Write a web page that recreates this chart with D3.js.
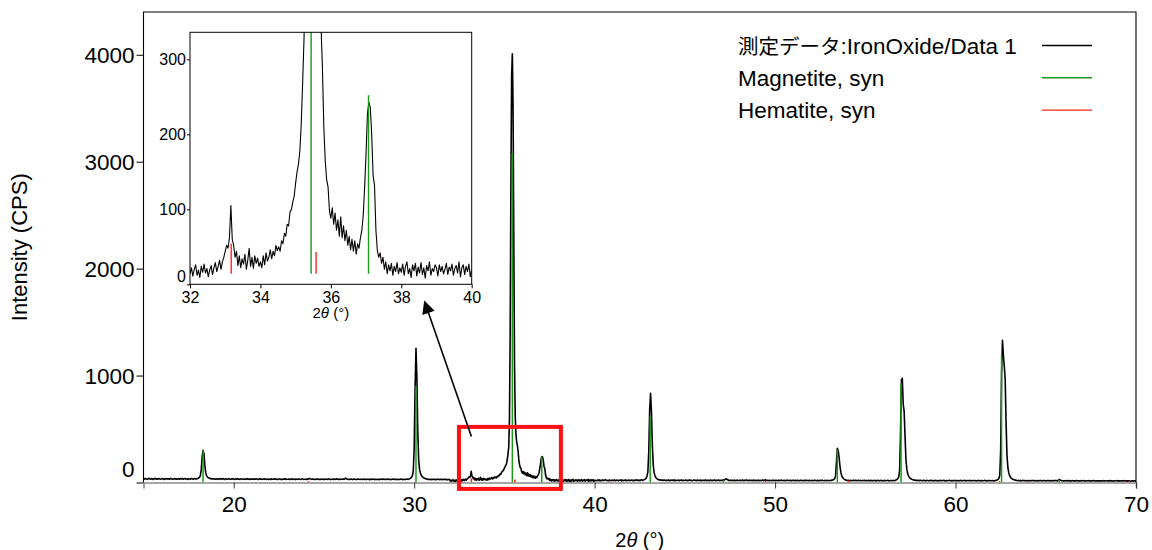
<!DOCTYPE html>
<html><head><meta charset="utf-8">
<script src="https://cdn.jsdelivr.net/npm/d3@7"></script>
<style>
body{margin:0;background:#fff}
svg text{font-family:"Liberation Sans",Arial,"Noto Sans CJK JP",sans-serif;fill:#000}
</style>
</head><body>
<svg id="chart" width="1152" height="550"></svg>
<script>
// ---------- DATA ----------
// measured scan, segment A: 15.00 .. 31.95 (step 0.05)
const scanAStart = 15.00, scanAStep = 0.05;
const scanA = [
 36,31,38,34,29,35,40,33,30,37,34,28,36,39,32,35,31,37,33,30, // 15
 34,38,32,29,36,33,37,31,35,30,38,34,29,33,36,32,37,30,34,35, // 16
 31,36,33,38,30,34,37,32,35,29,36,33,31,38,34,30,35,37,32,36, // 17
 36,40,48,65,120,240,300,270,160,90,62,50,44,40,36,37,33,35,32,34, // 18
 30,35,33,29,36,32,34,31,37,33,28,35,32,30,36,33,29,34,31,35, // 19
 32,29,34,31,36,30,33,28,35,32,30,34,29,33,31,36,30,32,28,34, // 20
 31,33,29,35,30,32,34,28,31,36,30,33,29,32,35,30,28,33,31,29, // 21
 32,28,34,30,31,35,29,33,30,27,32,34,29,31,28,33,30,35,29,31, // 22
 30,33,28,31,34,29,32,30,27,33,31,29,34,30,28,32,35,29,31,30, // 23
 28,32,30,35,38,34,30,29,33,31,27,32,30,34,29,31,28,33,30,29, // 24
 31,28,33,30,29,34,31,27,32,30,28,33,31,29,35,30,28,32,29,31, // 25
 30,33,29,32,42,35,30,28,31,29,33,30,27,32,30,28,31,29,33,30, // 26
 28,31,30,27,33,29,31,28,30,32,27,29,31,28,33,30,27,31,29,28, // 27
 31,29,27,32,30,28,33,29,31,27,30,32,28,29,31,27,30,33,29,28, // 28
 30,27,31,29,28,32,30,27,29,31,28,30,33,29,31,36,40,48,62,110, // 29
 320,880,1256,980,480,210,120,85,65,55,48,42,38,34,32,29,31,28,30,27, // 30
 29,31,28,30,26,29,32,28,27,30,29,26,31,28,30,27,29,25,28,30  // 31
];
// segment B (zoomed region): 32.00 .. 40.00 (step 0.04)
const scanBStart = 32.00, scanBStep = 0.04;
const scanB = [
 14,22,11,20,26,12,19,9,24,16,27,15,21,10,19,25,13,22,29,17,24,32,20,30,36, // 32
 44,52,48,62,105,60,52,36,44,25,38,22,34,27,40,20,32,48,24,36,21,38,28,35,24, // 33
 30,22,38,26,42,31,36,46,34,44,38,52,45,50,44,58,54,68,64,80,78,96,100,110,118, // 34
 135,150,160,178,215,270,330,600,1400,2800,3800,4010,3500,2300,1100,620,450,380,345,290,210,165,140,130,98, // 35
 88,102,80,95,72,86,64,90,62,78,58,72,52,64,46,60,44,58,40,54,48,62,72,92,130, // 36
 175,228,243,236,200,145,132,72,45,36,42,28,36,20,30,14,26,18,28,12,24,17,29,14,22, // 37
 16,27,12,24,30,14,21,9,26,18,28,11,23,15,29,13,22,8,25,18,30,12,21,17,26, // 38
 22,11,26,17,24,14,20,28,13,23,18,27,12,21,25,15,30,10,22,26,13,24,17,27,10, // 39
 20 // 40
];
// segment C: 40.05 .. 70.00 (step 0.05)
const scanCStart = 40.05, scanCStep = 0.05;
const scanC = [
 20,16,23,18,25,15,21,19,24,17,22,27,18,20,16,23,19,21,17, // 40.05-40.95
 22,18,24,16,20,23,17,21,19,25,15,22,18,20,24,16,21,19,23,17, // 41
 20,24,18,22,16,21,25,19,23,17,22,20,26,19,24,26,32,40,58,100, // 42
 290,680,835,660,340,160,90,60,45,36,30,26,22,26,20,23,19,24,21,18, // 43
 22,19,24,17,21,20,23,18,25,16,22,19,21,24,17,20,23,18,22,19, // 44
 20,23,17,21,19,24,18,22,16,20,25,19,21,17,23,18,20,22,16,21, // 45
 19,22,18,24,17,20,21,16,23,19,22,18,20,25,17,21,19,23,18,20, // 46
 21,18,23,19,26,30,34,28,22,20,17,22,19,21,18,23,16,20,22,19, // 47
 18,22,17,20,23,16,21,19,24,18,20,17,22,19,21,16,23,18,20,17, // 48
 21,18,22,16,20,19,23,17,21,25,22,18,20,17,21,19,16,22,18,20, // 49
 17,21,19,16,22,18,20,23,17,19,21,16,20,18,22,17,19,21,16,20, // 50
 18,21,17,20,16,22,19,17,21,18,20,15,19,22,17,20,18,16,21,19, // 51
 17,20,16,19,22,18,17,21,15,19,20,17,22,18,16,20,19,17,21,18, // 52
 16,20,18,22,24,28,36,60,190,320,295,230,145,90,60,44,35,28,24,22, // 53
 18,21,19,17,20,16,19,22,17,20,18,16,21,19,17,20,15,19,18,21, // 54
 17,19,16,20,18,15,21,17,19,16,20,18,14,19,21,17,16,20,18,15, // 55
 19,17,20,16,18,21,17,15,19,18,16,20,17,19,24,28,35,52,110,450, // 56
 960,975,730,670,440,220,125,82,60,46,38,32,28,25,22,23,19,21,18,20, // 57
 17,20,18,16,19,21,17,15,20,18,16,19,17,21,18,15,19,17,20,16, // 58
 18,15,19,17,20,16,18,21,17,15,19,16,18,20,17,19,15,18,16,20, // 59
 17,19,16,18,15,20,17,19,16,18,21,17,15,19,18,16,20,17,15,19, // 60
 18,16,19,15,17,20,16,18,15,19,17,16,20,18,15,17,19,16,18,17, // 61
 16,19,17,15,18,20,24,28,38,65,300,1010,1330,1190,1090,970,560,260,140,90, // 62
 64,48,38,32,28,25,22,22,18,16,20,17,19,15,18,20,16,19,17,15, // 63
 18,16,19,15,17,20,16,18,15,19,17,14,18,16,20,15,17,19,16,18, // 64
 15,17,19,16,18,14,17,19,15,18,16,20,17,15,22,28,24,18,16,14, // 65
 17,15,18,16,14,19,15,17,13,18,16,15,17,14,19,16,13,17,15,18, // 66
 14,16,18,15,13,17,16,14,18,15,17,13,16,19,14,15,17,13,16,15, // 67
 17,14,16,13,18,15,14,17,16,13,15,18,14,16,13,17,15,14,16,18, // 68
 13,15,17,14,16,13,18,15,14,16,13,15,17,14,12,16,15,13,17,14, // 69
 15 // 70
];
// reference patterns (stick positions and intensities)
const magnetitePos = [18.30, 30.10, 35.44, 37.07, 43.08, 47.15, 53.45, 56.98, 62.55, 65.75];
const magnetiteInt = [300, 900, 3080, 238, 620, 20, 305, 930, 1190, 25];
const hematitePos = [24.14, 33.17, 35.58, 40.86, 49.47, 54.07, 57.43, 57.59, 62.43, 63.99, 69.60];
const hematiteInt = [12, 40, 29, 8, 16, 18, 4, 4, 12, 12, 10];
// axes
const xTicks = [20, 30, 40, 50, 60, 70];
const yTicks = [0, 1000, 2000, 3000, 4000];
const insetXTicks = [32, 34, 36, 38, 40];
const insetYTicks = [0, 100, 200, 300];
const legendLabels = ["測定データ:IronOxide/Data 1", "Magnetite, syn", "Hematite, syn"];
// annotation (data coordinates of the main chart)
const zoomBox = {x0: 32.48, x1: 38.13, y0: -60, y1: 520};
const arrowFrom = [33.17, 430], arrowTo = [30.58, 1690];

// ---------- STYLE / LAYOUT ----------
const colors = {data: "#000", mag: "#1a9a1a", hem: "#ff2020"};
const M = {left: 143.5, right: 1136, top: 12, bottom: 482.5};
const I = {left: 190, right: 471.7, top: 32.3, bottom: 284.3};
const insetStickBase = 14;

const svg = d3.select("#chart");
const toPts = (start, step, vals) => vals.map((v, i) => [+(start + i * step).toFixed(2), v]);
const ptsA = toPts(scanAStart, scanAStep, scanA);
const ptsB = toPts(scanBStart, scanBStep, scanB);
const ptsC = toPts(scanCStart, scanCStep, scanC);
const pattern = ptsA.concat(ptsB, ptsC);

const x = d3.scaleLinear().domain([15, 70]).range([M.left, M.right]);
const y = d3.scaleLinear().domain([0, 4400]).range([M.bottom, M.top]);

const defs = svg.append("defs");
defs.append("clipPath").attr("id", "clipMain").append("rect")
  .attr("x", M.left).attr("y", M.top).attr("width", M.right - M.left).attr("height", M.bottom - M.top);
defs.append("clipPath").attr("id", "clipInset").append("rect")
  .attr("x", I.left).attr("y", I.top).attr("width", I.right - I.left).attr("height", I.bottom - I.top);
defs.append("marker").attr("id", "arrowHead").attr("viewBox", "0 0 10 10")
  .attr("refX", 9).attr("refY", 5).attr("markerUnits", "userSpaceOnUse")
  .attr("markerWidth", 17).attr("markerHeight", 13).attr("orient", "auto")
  .append("path").attr("d", "M0,0 L10,5 L0,10 z").attr("fill", "#000");

// ---- main axes ----
const yAxis = svg.append("g").attr("transform", `translate(${M.left},0)`)
  .call(d3.axisLeft(y).tickValues(yTicks).tickSize(7).tickPadding(2).tickFormat(d3.format("d")));
yAxis.selectAll("text").style("font-size", "22.5px").attr("dy", d => d === 0 ? "-0.25em" : "0.34em");
yAxis.select(".domain").remove();
yAxis.selectAll("line").attr("stroke", "#000");

const xAxis = svg.append("g").attr("transform", `translate(0,${M.bottom})`)
  .call(d3.axisBottom(x).tickValues(xTicks).tickSize(6).tickPadding(8).tickFormat(d3.format("d")));
xAxis.selectAll("text").style("font-size", "22.5px");
xAxis.select(".domain").attr("stroke", "#8a8a8a").attr("stroke-width", 1.6);
xAxis.selectAll("line").attr("stroke", "#333");

// frame (top, left, right)
svg.append("path")
  .attr("d", `M${M.left},${M.bottom} V${M.top} H${M.right} V${M.bottom}`)
  .attr("fill", "none").attr("stroke", "#000").attr("stroke-width", 1.1);

// axis titles
svg.append("text").attr("transform", `translate(27,${(M.top + M.bottom) / 2}) rotate(-90)`)
  .attr("text-anchor", "middle").style("font-size", "22px").text("Intensity (CPS)");
const xt = svg.append("text").attr("x", (M.left + M.right) / 2).attr("y", 547)
  .attr("text-anchor", "middle").style("font-size", "20px");
xt.append("tspan").text("2");
xt.append("tspan").style("font-style", "italic").text("θ");
xt.append("tspan").text(" (°)");

// ---- main data ----
const line = d3.line().x(d => x(d[0])).y(d => y(d[1]));
svg.append("path").datum(pattern).attr("clip-path", "url(#clipMain)")
  .attr("d", line).attr("fill", "none").attr("stroke", colors.data)
  .attr("stroke-width", 1.6).attr("stroke-linejoin", "round");

const gSticks = svg.append("g").attr("clip-path", "url(#clipMain)");
gSticks.selectAll(".mag").data(magnetitePos).join("line")
  .attr("x1", d => x(d)).attr("x2", d => x(d))
  .attr("y1", y(0)).attr("y2", (d, i) => y(magnetiteInt[i]))
  .attr("stroke", colors.mag).attr("stroke-width", 1.5);
gSticks.selectAll(".hem").data(hematitePos).join("line")
  .attr("x1", d => x(d)).attr("x2", d => x(d))
  .attr("y1", y(0)).attr("y2", (d, i) => y(hematiteInt[i]))
  .attr("stroke", colors.hem).attr("stroke-width", 1.5);

// zoom box + arrow
svg.append("rect")
  .attr("x", x(zoomBox.x0)).attr("y", y(zoomBox.y1))
  .attr("width", x(zoomBox.x1) - x(zoomBox.x0)).attr("height", y(zoomBox.y0) - y(zoomBox.y1))
  .attr("fill", "none").attr("stroke", "#ff1010").attr("stroke-width", 4);
svg.append("line")
  .attr("x1", x(arrowFrom[0])).attr("y1", y(arrowFrom[1]))
  .attr("x2", x(arrowTo[0])).attr("y2", y(arrowTo[1]))
  .attr("stroke", "#000").attr("stroke-width", 1.6).attr("marker-end", "url(#arrowHead)");

// ---- legend ----
const legendColors = [colors.data, colors.mag, colors.hem];
const lg = svg.append("g");
legendLabels.forEach((lab, i) => {
  const yy = 46 + i * 32.3;
  const t = lg.append("text").attr("x", 738).attr("y", yy).attr("dy", "0.35em").style("font-size", "22.5px");
  if (i === 0) {
    t.append("tspan").style("font-size", "20.5px").style("font-family", "'Noto Sans CJK JP',sans-serif").text(lab.slice(0, 5));
    t.append("tspan").text(lab.slice(5));
  } else t.text(lab);
  lg.append("line").attr("x1", 1042).attr("x2", 1092).attr("y1", yy - 0.5).attr("y2", yy - 0.5)
    .attr("stroke", legendColors[i]).attr("stroke-width", 1.4);
});

// ---- inset ----
const xi = d3.scaleLinear().domain([32, 40]).range([I.left, I.right]);
const yi = d3.scaleLinear().domain([0, 336]).range([I.bottom, I.top]);
const gi = svg.append("g");
gi.append("rect").attr("x", I.left).attr("y", I.top)
  .attr("width", I.right - I.left).attr("height", I.bottom - I.top).attr("fill", "#fff");
const lineI = d3.line().x(d => xi(d[0])).y(d => yi(d[1]));
gi.append("path").datum(ptsB).attr("clip-path", "url(#clipInset)")
  .attr("d", lineI).attr("fill", "none").attr("stroke", colors.data)
  .attr("stroke-width", 1.1).attr("stroke-linejoin", "round");
const giS = gi.append("g").attr("clip-path", "url(#clipInset)");
giS.selectAll(".mag").data(magnetitePos).join("line")
  .attr("x1", d => xi(d)).attr("x2", d => xi(d))
  .attr("y1", yi(insetStickBase)).attr("y2", (d, i) => yi(insetStickBase + magnetiteInt[i]))
  .attr("stroke", colors.mag).attr("stroke-width", 1.4);
giS.selectAll(".hem").data(hematitePos).join("line")
  .attr("x1", d => xi(d)).attr("x2", d => xi(d))
  .attr("y1", yi(insetStickBase)).attr("y2", (d, i) => yi(insetStickBase + hematiteInt[i]))
  .attr("stroke", colors.hem).attr("stroke-width", 1.4);
gi.append("rect").attr("x", I.left).attr("y", I.top)
  .attr("width", I.right - I.left).attr("height", I.bottom - I.top)
  .attr("fill", "none").attr("stroke", "#000").attr("stroke-width", 1);
const yiAxis = gi.append("g").attr("transform", `translate(${I.left},0)`)
  .call(d3.axisLeft(yi).tickValues(insetYTicks).tickSize(3).tickPadding(1));
yiAxis.select(".domain").remove();
yiAxis.selectAll("text").style("font-size", "16px").attr("dy", d => d === 0 ? "-0.2em" : "0.34em");
const xiAxis = gi.append("g").attr("transform", `translate(0,${I.bottom})`)
  .call(d3.axisBottom(xi).tickValues(insetXTicks).tickSize(4).tickPadding(3));
xiAxis.select(".domain").remove();
xiAxis.selectAll("text").style("font-size", "16px");
const xit = gi.append("text").attr("x", (I.left + I.right) / 2).attr("y", 318)
  .attr("text-anchor", "middle").style("font-size", "15px");
xit.append("tspan").text("2");
xit.append("tspan").style("font-style", "italic").text("θ");
xit.append("tspan").text(" (°)");
</script>
</body></html>
